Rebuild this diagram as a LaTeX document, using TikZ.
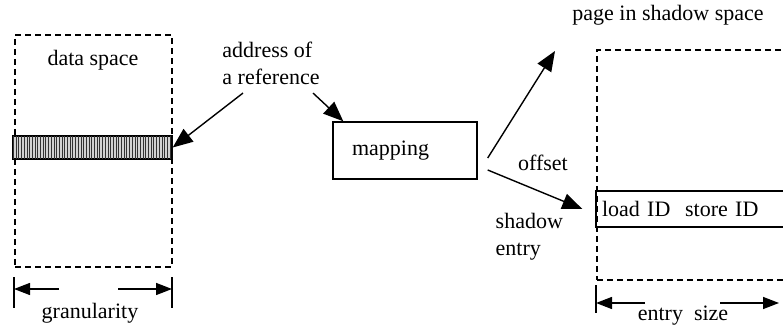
\documentclass[tikz,border=0pt]{standalone}
\usepackage{fontspec}
\setmainfont{Liberation Serif}
\usetikzlibrary{arrows.meta, positioning, patterns.meta}

\begin{document}
\begin{tikzpicture}[
  x=1pt, y=1pt,
  font=\rmfamily\fontsize{22}{27}\selectfont,
  line width=1.4pt,
  space/.style={draw,dash pattern=on 6pt off 4pt,minimum width=#1,
    minimum height=230pt,inner sep=0pt},
  grainbar/.style={draw,fill=gray!35,minimum width=159pt,minimum height=23pt,
    inner sep=0pt,postaction={pattern={Lines[angle=90,distance=2.7pt,line width=0.9pt]},
    pattern color=black!80}},
  mapbox/.style={draw,minimum width=144pt,minimum height=57pt,inner xsep=19pt,
    text width=106pt,align=left},
  entrybox/.style={draw,minimum width=190pt,minimum height=36pt,inner xsep=6pt,
    text width=178pt,align=left},
  lbl/.style={inner sep=0pt,align=left},
  arr/.style={-{Triangle[length=20pt,width=16pt]}},
  dimarr/.style={-{Triangle[length=16pt,width=12pt]}},
]
\useasboundingbox (0,0) rectangle (783,326);

% Data space
\node[space=157pt, minimum height=232pt] (dataspace) at (93.5,175) {};
\node[lbl] (dslabel) at (93,266) {data space};
\node[grainbar] (grain) at (92.5,178.5) {};

% Address
\node[lbl] (addr) at (271,263) {address of\\a reference};

% Mapping
\node[mapbox] (mapping) at (405,175.5) {mapping};

% Shadow page
\node[lbl] (pagelabel) at (668,311) {page in shadow space};
\node[space=187pt] (pagebox) at (690.5,161) {};
\node[entrybox] (entry) at (691,117) {load ID\ \ store ID};

% Labels of the outputs
\node[lbl] (offset) at (543,163) {offset};
\node[lbl, anchor=west] (shadow) at (495,89) {shadow\\entry};

% Coordinates for free ends
\coordinate (addrA) at ([xshift=-28pt,yshift=-8pt]addr.south);
\coordinate (addrB) at ([xshift=42pt,yshift=-8pt]addr.south);
\coordinate (offsetfrom) at ([shift={(10,-7.5)}]mapping.east);
\coordinate (entryfrom) at ([shift={(10,-19.5)}]mapping.east);
\coordinate (pagetip) at (555,275);

% Arrows
\draw[arr] (addrA) -- (grain.east);
\draw[arr] (addrB) -- ([xshift=11pt]mapping.north west);
\draw[arr] (offsetfrom) -- (pagetip);
\draw[arr] (entryfrom) -- ([xshift=-13pt]entry.west);

% Granularity
\node[lbl] (gran) at (90,13) {granularity};
\coordinate (gl) at (14,37);
\coordinate (gr) at (172,37);
\draw (14,18) -- (14,49);
\draw (172,18) -- (172,49);
\draw[dimarr] (59,37) -- (gl);
\draw[dimarr] (118,37) -- (gr);

% Entry size
\node[lbl] (esize) at (683,10) {entry\ \ size};
\coordinate (el) at (596,23);
\coordinate (er) at (779,23);
\draw (596,13) -- (596,41);
\draw[dimarr] (645,23) -- (el);
\draw[dimarr] (720,23) -- (er);

\end{tikzpicture}
\end{document}
